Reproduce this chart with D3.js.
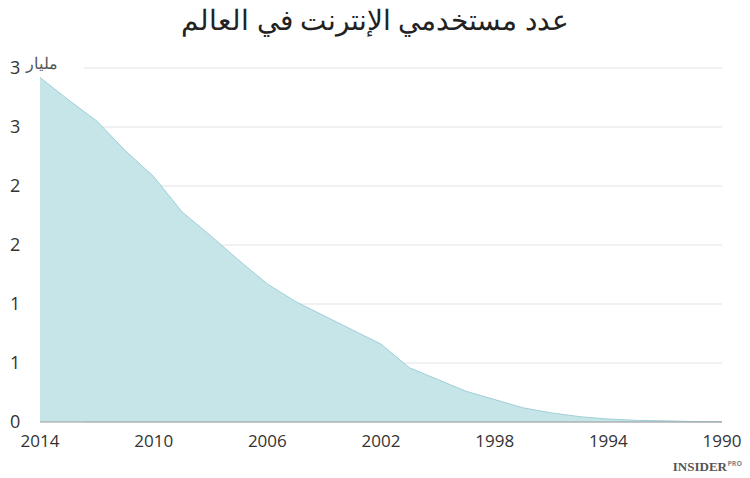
<!DOCTYPE html>
<html><head><meta charset="utf-8">
<script src="https://cdnjs.cloudflare.com/ajax/libs/d3/7.8.5/d3.min.js"></script>
<style>body{margin:0;background:#fff;font-family:"Open Sans",sans-serif;}</style>
</head><body><div class="canvas"></div>
<script>
// internet users, billions
var years = [2014,2013,2012,2011,2010,2009,2008,2007,2006,2005,2004,2003,2002,2001,2000,1999,1998,1997,1996,1995,1994,1993,1992,1991,1990];
var users = [2.92,2.73,2.55,2.30,2.08,1.78,1.58,1.37,1.17,1.02,0.90,0.78,0.66,0.46,0.36,0.26,0.19,0.12,0.077,0.045,0.025,0.014,0.01,0.004,0.003];
var yTicks = [0,0.5,1,1.5,2,2.5,3];
var yLabels = ["0","1","1","2","2","3","3"];
var xTicks = [2014,2010,2006,2002,1998,1994,1990];

var width = 750, height = 478;
var svg = d3.select('.canvas').append('svg').attr('width',width).attr('height',height);

var x = d3.scaleLinear().domain([2014,1990]).range([40,722]);
var y = d3.scaleLinear().domain([0,3]).range([422,68]);

svg.append('text').attr('x',375).attr('y',30).attr('text-anchor','middle')
    .attr('font-size',28).attr('fill','#222').attr('direction','rtl')
    .text('عدد مستخدمي الإنترنت في العالم');

// grid
svg.selectAll('.grid').data(yTicks).enter().append('line')
    .attr('x1',84).attr('x2',722).attr('y1',d=>y(d)).attr('y2',d=>y(d))
    .attr('stroke','#e3e3e3').attr('stroke-width',1);

var area = d3.area().x((d,i)=>x(years[i])).y0(y(0)).y1(d=>y(d));
svg.append('path').datum(users).attr('d',area).attr('fill','#c5e5e9');
var line = d3.line().x((d,i)=>x(years[i])).y(d=>y(d));
svg.append('path').datum(users).attr('d',line).attr('fill','none').attr('stroke','#9fd0d6').attr('stroke-width',1);

svg.append('line').attr('x1',40).attr('x2',722).attr('y1',y(0)).attr('y2',y(0)).attr('stroke','#999');

svg.selectAll('.yl').data(yTicks).enter().append('text')
    .attr('x',10).attr('y',d=>y(d)+6).attr('font-size',18).attr('fill','#333')
    .text((d,i)=>yLabels[i]);
svg.append('text').attr('x',26).attr('y',y(3)+1).attr('font-size',16).attr('fill','#555').text('مليار');

svg.selectAll('.xl').data(xTicks).enter().append('text')
    .attr('x',d=>x(d)).attr('y',447).attr('text-anchor','middle')
    .attr('font-size',17).attr('fill','#333').text(d=>d);
svg.append('text').attr('x',x(2014)-40+2).attr('y',447).attr('font-size',0).text('');

svg.append('text').attr('x',727).attr('y',471).attr('text-anchor','end')
    .attr('font-family','Liberation Serif,serif').attr('font-weight','bold').attr('font-size',13).attr('fill','#555')
    .text('INSIDER');
svg.append('text').attr('x',742).attr('y',466).attr('text-anchor','end')
    .attr('font-size',7).attr('font-weight','bold').attr('fill','#888').text('PRO');
</script></body></html>
